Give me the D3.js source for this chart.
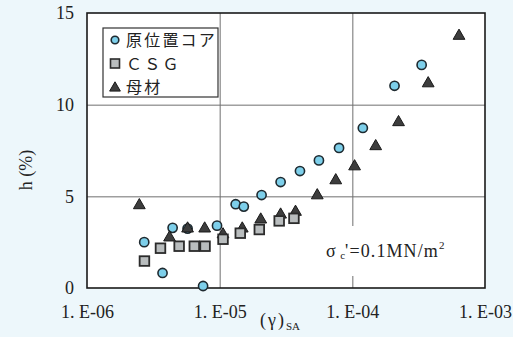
<!DOCTYPE html>
<html>
<head>
<meta charset="utf-8">
<script src="https://cdn.jsdelivr.net/npm/d3@7"></script>
<style>
  html, body { margin: 0; padding: 0; background: #edf7fb; }
  svg { display: block; }
  .serif { font-family: "Liberation Serif", "DejaVu Serif", serif; }
</style>
</head>
<body>
<svg id="chart" width="513" height="337"></svg>
<script>
// ---- data ----
const xTicks = [1e-6, 1e-5, 1e-4, 1e-3];
const xTickLabels = ['1. E-06', '1. E-05', '1. E-04', '1. E-03'];
const yTicks = [0, 5, 10, 15];

const legendNames = ['原位置コア', 'ＣＳＧ', '母材'];

// 原位置コア
const coreX = [2.70e-6, 3.71e-6, 4.42e-6, 5.73e-6, 7.50e-6, 9.55e-6, 1.32e-5, 1.52e-5,
  2.07e-5, 2.88e-5, 4.03e-5, 5.60e-5, 7.94e-5, 1.20e-4, 2.08e-4, 3.33e-4];
const coreH = [2.50, 0.82, 3.28, 3.24, 0.11, 3.40, 4.57, 4.44,
  5.07, 5.78, 6.38, 6.96, 7.64, 8.73, 11.03, 12.17];

// CSG
const csgX = [2.71e-6, 3.58e-6, 4.95e-6, 6.44e-6, 7.76e-6, 1.06e-5, 1.43e-5, 1.99e-5, 2.81e-5, 3.63e-5];
const csgH = [1.47, 2.17, 2.28, 2.28, 2.28, 2.66, 2.99, 3.19, 3.66, 3.80];

// 母材
const rockX = [2.48e-6, 4.19e-6, 5.73e-6, 7.71e-6, 1.06e-5, 1.48e-5, 2.04e-5, 2.88e-5,
  3.73e-5, 5.44e-5, 7.50e-5, 1.04e-4, 1.50e-4, 2.23e-4, 3.73e-4, 6.37e-4];
const rockH = [4.51, 2.75, 3.24, 3.24, 2.92, 3.24, 3.73, 4.00,
  4.15, 5.05, 5.87, 6.63, 7.73, 9.04, 11.16, 13.75];

// ---- layout ----
const svg = d3.select('#chart');
const plotL = 87, plotR = 485, plotT = 13, plotB = 288;

const x = d3.scaleLog().domain([1e-6, 1e-3]).range([plotL, plotR]);
const y = d3.scaleLinear().domain([0, 15]).range([plotB, plotT]);

// plot background
svg.append('rect')
  .attr('x', plotL).attr('y', plotT)
  .attr('width', plotR - plotL).attr('height', plotB - plotT)
  .attr('fill', '#ffffff');

// grid lines
svg.append('g')
  .attr('transform', `translate(0,${plotB})`)
  .call(d3.axisBottom(x).tickValues([1e-5, 1e-4]).tickSize(-(plotB - plotT)).tickFormat(''))
  .call((g) => g.select('.domain').remove())
  .selectAll('line').attr('stroke', '#6f6f6f').attr('stroke-width', 1);

svg.append('g')
  .attr('transform', `translate(${plotL},0)`)
  .call(d3.axisLeft(y).tickValues([5, 10]).tickSize(-(plotR - plotL)).tickFormat(''))
  .call((g) => g.select('.domain').remove())
  .selectAll('line').attr('stroke', '#6f6f6f').attr('stroke-width', 1);

// tick labels
const xAxis = svg.append('g')
  .attr('transform', `translate(0,${plotB})`)
  .call(d3.axisBottom(x).tickValues(xTicks).tickSize(0).tickPadding(17)
    .tickFormat((d, i) => xTickLabels[i]));
xAxis.select('.domain').remove();
xAxis.selectAll('text').attr('font-size', 18).attr('fill', '#222')
  .attr('font-family', '"Liberation Serif", "DejaVu Serif", serif');

const yAxis = svg.append('g')
  .attr('transform', `translate(${plotL},0)`)
  .call(d3.axisLeft(y).tickValues(yTicks).tickSize(0).tickPadding(13));
yAxis.select('.domain').remove();
yAxis.selectAll('text').attr('font-size', 18).attr('fill', '#222')
  .attr('font-family', '"Liberation Serif", "DejaVu Serif", serif');

// annotation box (white, hides grid behind it)
svg.append('rect')
  .attr('x', 318).attr('y', 226).attr('width', 140).attr('height', 50)
  .attr('fill', '#ffffff');

const ann = svg.append('text')
  .attr('class', 'serif')
  .attr('x', 326).attr('y', 257)
  .attr('font-size', 18).attr('fill', '#222');
ann.append('tspan').text('σ ');
ann.append('tspan').attr('font-size', 11).attr('dy', 2).text('c');
ann.append('tspan').attr('dy', -2).attr('letter-spacing', 1.1).text("'=0.1MN/m");
ann.append('tspan').attr('font-size', 11).attr('dy', -8).text('2');

// frame
svg.append('rect')
  .attr('x', plotL).attr('y', plotT)
  .attr('width', plotR - plotL).attr('height', plotB - plotT)
  .attr('fill', 'none').attr('stroke', '#1a1a1a').attr('stroke-width', 1.6);

// ---- markers ----
const tri = d3.symbol().type(d3.symbolTriangle).size(60);

function drawCircles(g, xs, hs) {
  g.selectAll('circle').data(xs).join('circle')
    .attr('cx', (d) => x(d))
    .attr('cy', (d, i) => y(hs[i]))
    .attr('r', 4.6)
    .attr('fill', '#7dcfea')
    .attr('stroke', '#1e2a30')
    .attr('stroke-width', 1.6);
}
function drawTriangles(g, xs, hs) {
  g.selectAll('path').data(xs).join('path')
    .attr('d', tri)
    .attr('transform', (d, i) => `translate(${x(d)},${y(hs[i])})`)
    .attr('fill', '#3d3d3d')
    .attr('stroke', '#1a1a1a')
    .attr('stroke-width', 1);
}
function drawSquares(g, xs, hs) {
  g.selectAll('rect').data(xs).join('rect')
    .attr('x', (d) => x(d) - 4.8)
    .attr('y', (d, i) => y(hs[i]) - 4.8)
    .attr('width', 9.6).attr('height', 9.6)
    .attr('fill', '#b9bdbe')
    .attr('stroke', '#2b2b2b')
    .attr('stroke-width', 1.8);
}

drawCircles(svg.append('g'), coreX, coreH);
drawTriangles(svg.append('g'), rockX, rockH);
drawSquares(svg.append('g'), csgX, csgH);

// ---- legend ----
const lg = svg.append('g');
lg.append('rect')
  .attr('x', 103).attr('y', 28).attr('width', 115).attr('height', 69)
  .attr('fill', '#ffffff').attr('stroke', '#333').attr('stroke-width', 1.2);

const rowY = [40, 63.5, 87];
lg.append('circle')
  .attr('cx', 115).attr('cy', rowY[0]).attr('r', 3.8)
  .attr('fill', '#7dcfea').attr('stroke', '#1e2a30').attr('stroke-width', 1.6);
lg.append('rect')
  .attr('x', 110.5).attr('y', rowY[1] - 4.5).attr('width', 9).attr('height', 9)
  .attr('fill', '#b9bdbe').attr('stroke', '#2b2b2b').attr('stroke-width', 1.6);
lg.append('path')
  .attr('d', d3.symbol().type(d3.symbolTriangle).size(50))
  .attr('transform', `translate(115,${rowY[2] + 1})`)
  .attr('fill', '#3d3d3d').attr('stroke', '#1a1a1a');

lg.selectAll('text').data(legendNames).join('text')
  .attr('x', 126)
  .attr('y', (d, i) => rowY[i] + 6)
  .attr('font-size', 16)
  .attr('letter-spacing', 2.2)
  .attr('font-family', '"Noto Sans CJK JP", sans-serif')
  .attr('fill', '#222')
  .text((d) => d);

// ---- axis titles ----
const xt = svg.append('text')
  .attr('class', 'serif')
  .attr('x', 260).attr('y', 326)
  .attr('font-size', 18).attr('fill', '#222');
xt.append('tspan').attr('letter-spacing', 2).text('(γ)');
xt.append('tspan').attr('font-size', 11).attr('dy', 4).text('SA');

svg.append('text')
  .attr('class', 'serif')
  .attr('transform', 'translate(32,170) rotate(-90)')
  .attr('text-anchor', 'middle')
  .attr('font-size', 18).attr('fill', '#222')
  .text('h (%)');
</script>
</body>
</html>
